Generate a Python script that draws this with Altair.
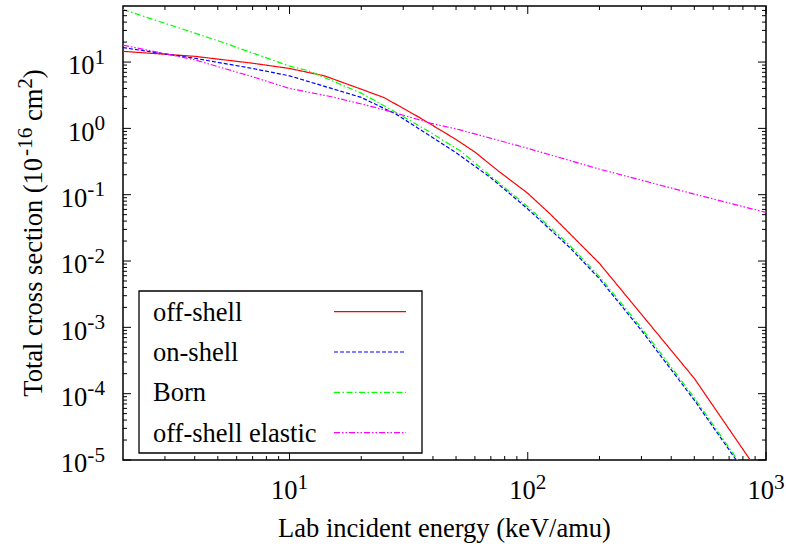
import altair as alt
import pandas as pd

# ---------------- data ----------------
series_names = ["off-shell", "on-shell", "Born", "off-shell elastic"]

E_off = [2, 4, 7, 10, 14, 20, 25, 35, 50, 60, 75, 100, 125, 150, 200, 500, 1000]
S_off = [14.5, 12.2, 9.6, 8.0, 6.2, 3.9, 2.9, 1.47, 0.68, 0.44, 0.23, 0.105,
         0.050, 0.026, 0.0092, 1.7e-4, 4.5e-6]

E_on = [2, 4, 7, 10, 15, 20, 28, 35, 50, 70, 100, 150, 200, 300, 500, 750, 1000]
S_on = [16.5, 11.4, 8.0, 6.2, 4.0, 2.93, 1.64, 0.98, 0.43, 0.18, 0.061, 0.016,
        0.0054, 9.0e-4, 8.0e-5, 1.0e-5, 2.3e-6]

E_born = [2, 5, 10, 12, 20, 28, 39, 52, 70, 100, 150, 200, 300, 500, 760, 1000]
S_born = [62, 21, 8.7, 7.4, 3.4, 1.74, 0.87, 0.46, 0.19, 0.066, 0.0172, 0.0058,
          9.8e-4, 8.7e-5, 1.0e-5, 2.4e-6]

E_el = [2, 4, 7, 10, 15, 22, 28, 39, 52, 100, 200, 500, 1000]
S_el = [18, 10.8, 6.0, 4.0, 3.0, 2.15, 1.7, 1.2, 0.95, 0.50, 0.243, 0.102, 0.054]

x_major = [10, 100, 1000]
x_minor = [3, 4, 5, 6, 7, 8, 9, 20, 30, 40, 50, 60, 70, 80, 90,
           200, 300, 400, 500, 600, 700, 800, 900]
x_exps = ["1", "2", "3"]
y_exps = [1, 0, -1, -2, -3, -4, -5]
y_major = [10.0 ** e for e in y_exps]
y_minor = [m * 10.0 ** e for e in range(-5, 2) for m in range(2, 10) if m * 10.0 ** e < 70]

x_title = "Lab incident energy (keV/amu)"
y_title_parts = ["Total cross section (10", "-16", " cm", "2", ")"]

# ---------------- styles ----------------
colors = ["#ff0000", "#0000ff", "#00ff00", "#ff00ff"]
dashes = [[1, 0], [4, 2], [6, 2.5, 1.5, 2.5], [6, 2, 1.5, 2, 1.5, 2]]
FONT = "Times New Roman, Liberation Serif, DejaVu Serif, serif"
F = 26.5
S = 0.8 * F
RAISE = 10.5
W, H = 643, 454

xs = alt.Scale(type="log", domain=[2, 1000])
ys = alt.Scale(type="log", domain=[1e-5, 70])

rows = []
for name, E, Sg in [(series_names[0], E_off, S_off), (series_names[1], E_on, S_on),
                    (series_names[2], E_born, S_born), (series_names[3], E_el, S_el)]:
    for e, s in zip(E, Sg):
        rows.append({"E": e, "sigma": s, "series": name})
df = pd.DataFrame(rows)

one = pd.DataFrame({"k": [0]})

lines = alt.Chart(df).mark_line(clip=True, strokeWidth=1.2).encode(
    x=alt.X("E:Q", scale=xs, axis=None),
    y=alt.Y("sigma:Q", scale=ys, axis=None),
    color=alt.Color("series:N", scale=alt.Scale(domain=series_names, range=colors), legend=None),
    strokeDash=alt.StrokeDash("series:N", scale=alt.Scale(domain=series_names, range=dashes), legend=None),
    detail="series:N",
)

layers = [lines]

# ---------------- ticks (inward, mirrored) ----------------
dfx_maj = pd.DataFrame({"v": x_major})
dfx_min = pd.DataFrame({"v": x_minor})
dfy_maj = pd.DataFrame({"v": y_major})
dfy_min = pd.DataFrame({"v": y_minor})
for d, L in [(dfx_maj, 8), (dfx_min, 4)]:
    base = alt.Chart(d).mark_rule(color="black", strokeWidth=1)
    layers.append(base.encode(x=alt.X("v:Q", scale=xs, axis=None), y=alt.value(H), y2=alt.value(H - L)))
    layers.append(base.encode(x=alt.X("v:Q", scale=xs, axis=None), y=alt.value(0), y2=alt.value(L)))
for d, L in [(dfy_maj, 8), (dfy_min, 4)]:
    base = alt.Chart(d).mark_rule(color="black", strokeWidth=1)
    layers.append(base.encode(y=alt.Y("v:Q", scale=ys, axis=None), x=alt.value(0), x2=alt.value(L)))
    layers.append(base.encode(y=alt.Y("v:Q", scale=ys, axis=None), x=alt.value(W), x2=alt.value(W - L)))

# ---------------- tick labels ----------------
XBASE = H + 39
dxl = pd.DataFrame({"v": x_major, "b": ["10"] * 3, "e": x_exps})
half = (F + 0.5 * S) / 2
layers.append(alt.Chart(dxl).mark_text(font=FONT, fontSize=F, align="left", baseline="alphabetic",
                                       dx=-half, color="black").encode(
    x=alt.X("v:Q", scale=xs, axis=None), y=alt.value(XBASE), text="b:N"))
layers.append(alt.Chart(dxl).mark_text(font=FONT, fontSize=S, align="left", baseline="alphabetic",
                                       dx=-half + F, color="black").encode(
    x=alt.X("v:Q", scale=xs, axis=None), y=alt.value(XBASE - RAISE), text="e:N"))

YR = -18
for grp in ([e for e in y_exps if e >= 0], [e for e in y_exps if e < 0]):
    d = pd.DataFrame({"v": [10.0 ** e for e in grp], "b": ["10"] * len(grp), "e": [str(e) for e in grp]})
    supw = S * (0.5 if grp[0] >= 0 else 0.833)
    layers.append(alt.Chart(d).mark_text(font=FONT, fontSize=S, align="right", baseline="alphabetic",
                                         dy=12.2 - RAISE, color="black").encode(
        y=alt.Y("v:Q", scale=ys, axis=None), x=alt.value(YR), text="e:N"))
    layers.append(alt.Chart(d).mark_text(font=FONT, fontSize=F, align="right", baseline="alphabetic",
                                         dx=-supw, dy=12.2, color="black").encode(
        y=alt.Y("v:Q", scale=ys, axis=None), x=alt.value(YR), text="b:N"))

# ---------------- axis titles ----------------
layers.append(alt.Chart(one).mark_text(font=FONT, fontSize=F, align="center", baseline="alphabetic",
                                       color="black").encode(
    x=alt.value(W / 2), y=alt.value(H + 77), text=alt.value(x_title)))

em = {"T": .611, "o": .5, "t": .278, "a": .444, "l": .278, " ": .25, "c": .444, "r": .333,
      "s": .389, "e": .444, "i": .278, "n": .5, "(": .333, "1": .5, "0": .5, "-": .333,
      "m": .778, "2": .5, ")": .333, "6": .5}
sizes = [F, S, F, S, F]
raises = [0, -RAISE, 0, -RAISE, 0]
widths = [sum(em[c] for c in p) * sz for p, sz in zip(y_title_parts, sizes)]
pos = -sum(widths) / 2
for p, sz, r, w in zip(y_title_parts, sizes, raises, widths):
    lead = len(p) - len(p.lstrip(" "))
    shift = lead * em[" "] * sz
    layers.append(alt.Chart(one).mark_text(font=FONT, fontSize=sz, align="left", baseline="alphabetic",
                                           angle=270, dx=pos + shift, dy=r, color="black").encode(
        x=alt.value(-81), y=alt.value(H / 2), text=alt.value(p.lstrip(" "))))
    pos += w

# ---------------- legend ----------------
layers.append(alt.Chart(one).mark_rect(fill="white", stroke="black", strokeWidth=1.3).encode(
    x=alt.value(16), x2=alt.value(299), y=alt.value(285), y2=alt.value(447)))
for i, name in enumerate(series_names):
    yc = 305.7 + 40.3 * i
    layers.append(alt.Chart(one).mark_rule(color=colors[i], strokeDash=dashes[i], strokeWidth=1.2).encode(
        x=alt.value(211), x2=alt.value(283), y=alt.value(yc)))
    layers.append(alt.Chart(one).mark_text(font=FONT, fontSize=F, align="left", baseline="alphabetic",
                                           color="black").encode(
        x=alt.value(30), y=alt.value(yc + 9), text=alt.value(name)))

chart = alt.layer(*layers).properties(
    width=W, height=H,
    autosize=alt.AutoSizeParams(type="none"),
    padding={"left": 123, "top": 6, "right": 786 - 123 - W, "bottom": 548 - 6 - H},
    background="white",
).configure_view(stroke="black", strokeWidth=1.5)

chart.save("out.html", embed_options={"renderer": "svg", "actions": False})
